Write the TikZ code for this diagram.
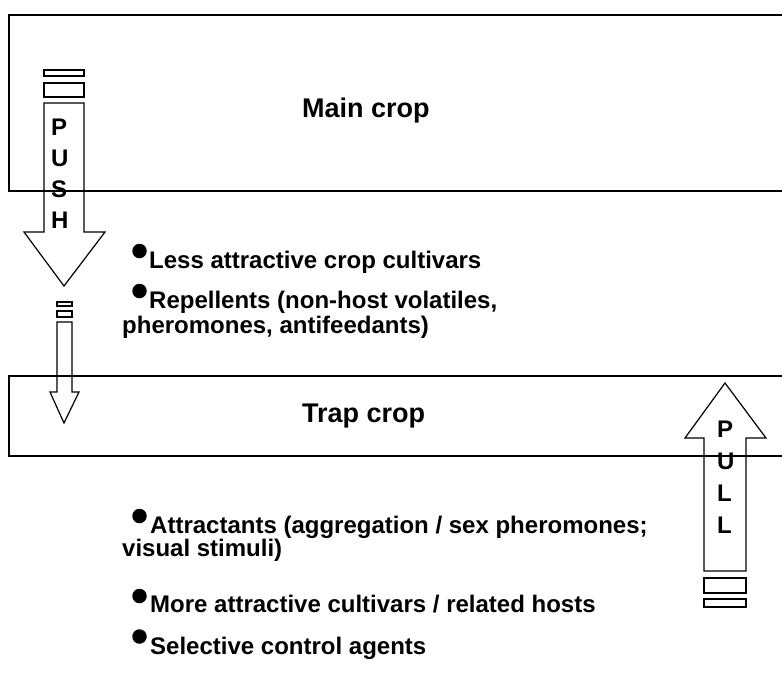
\documentclass[tikz,border=0pt]{standalone}
\usepackage{fontspec}
\setmainfont{Liberation Sans}
\tikzset{
  cropbox/.style={draw, line width=1.6pt, rectangle, inner sep=0pt, anchor=north west},
  blockarrow/.style={draw, line width=1.2pt, line join=miter},
  bulletdot/.style={fill, circle, inner sep=0pt, minimum size=14.5pt},
  itemtext/.style={anchor=base west, inner sep=0pt, font=\fontsize{24}{26}\selectfont\bfseries},
  titletext/.style={anchor=base west, inner sep=0pt, font=\fontsize{27}{30}\selectfont\bfseries},
  lettertext/.style={anchor=base west, inner sep=0pt, font=\fontsize{24}{26}\selectfont\bfseries}
}
\begin{document}
\begin{tikzpicture}[x=1pt, y=-1pt]
  \useasboundingbox (0,0) rectangle (782,673);
  \clip (0,0) rectangle (782,673);
  % Main crop
  \node[cropbox, minimum width=800pt, minimum height=176pt] (maincrop) at (8,14) {};
  \node[titletext] (maintitle) at (302,117) {Main crop};
  % Trap crop
  \node[cropbox, minimum width=800pt, minimum height=80pt] (trapcrop) at (8,375) {};
  \node[titletext] (traptitle) at (302,422) {Trap crop};
  % Push arrow
  \draw[blockarrow] (44,70) rectangle (84,76);
  \draw[blockarrow] (44,83) rectangle (84,97);
  \draw[blockarrow] (44,103) -- (84,103) -- (84,232) -- (105,232) -- (64,286)
    -- (24,232) -- (44,232) -- cycle;
  \foreach \l [count=\i] in {P,U,S,H}
    \node[lettertext] (push\i) at (51,{135+31*(\i-1)}) {\l};
  % Small push arrow
  \draw[blockarrow] (57,302) rectangle (72,306);
  \draw[blockarrow] (57,311) rectangle (72,317);
  \draw[blockarrow] (57,322) -- (72,322) -- (72,392) -- (79,392) -- (64,423)
    -- (50,392) -- (57,392) -- cycle;
  % Pull arrow
  \draw[blockarrow] (725,383) -- (766,438) -- (746,438) -- (746,571) -- (704,571)
    -- (704,438) -- (685,438) -- cycle;
  \draw[blockarrow] (704,578) rectangle (746,593);
  \draw[blockarrow] (704,599) rectangle (746,607);
  \foreach \l [count=\i] in {P,U,L,L}
    \node[lettertext] (pull\i) at (717,{437+32.3*(\i-1)}) {\l};
  % Push stimuli
  \node[bulletdot] (dot1) at (139.5,251) {};
  \node[itemtext] (less) at (149,268) {Less attractive crop cultivars};
  \node[bulletdot] (dot2) at (139.5,291) {};
  \node[itemtext] (repel) at (149,308) {Repellents (non-host volatiles,};
  \node[itemtext] (repelb) at (122,333) {pheromones, antifeedants)};
  % Pull stimuli
  \node[bulletdot] (dot3) at (139.5,516) {};
  \node[itemtext] (attract) at (150,533) {Attractants (aggregation / sex pheromones;};
  \node[itemtext] (attractb) at (122,556) {visual stimuli)};
  \node[bulletdot] (dot4) at (139.5,596) {};
  \node[itemtext] (more) at (150,612) {More attractive cultivars / related hosts};
  \node[bulletdot] (dot5) at (139.5,636.5) {};
  \node[itemtext] (select) at (150,654) {Selective control agents};
\end{tikzpicture}
\end{document}
